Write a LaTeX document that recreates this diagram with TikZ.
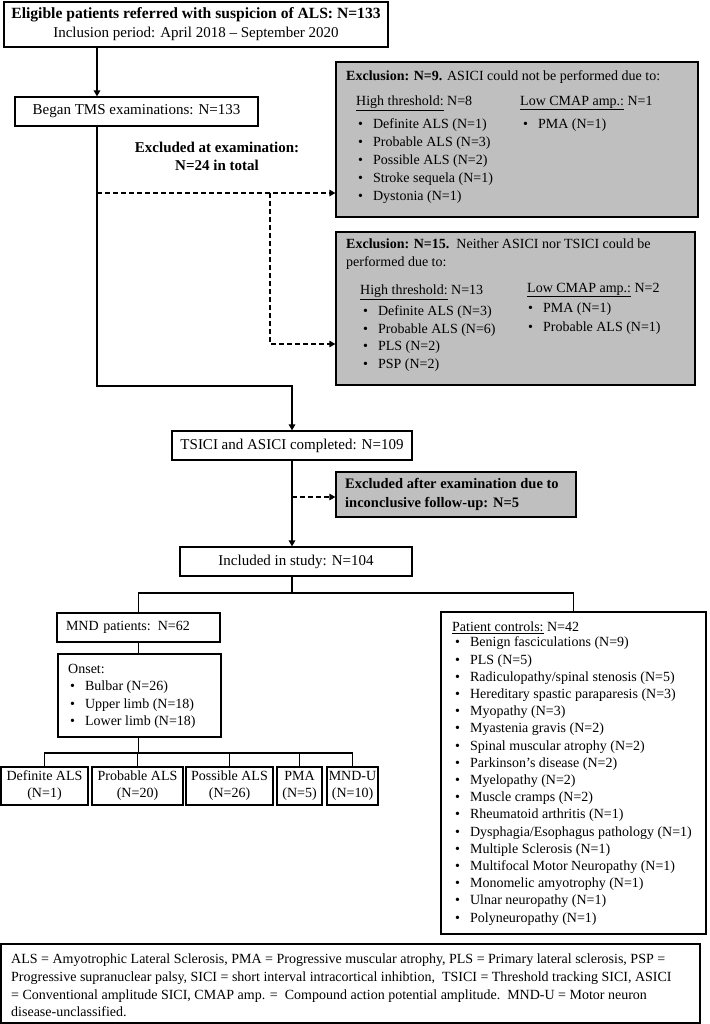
\documentclass[tikz,border=0pt]{standalone}
\usepackage{fontspec}
\setmainfont{Liberation Serif}
\usetikzlibrary{arrows.meta,positioning,fit}
\definecolor{boxgray}{RGB}{191,191,191}
\newcommand{\blist}[2][1]{{\renewcommand{\arraystretch}{#1}\begin{tabular}{@{}l@{\hspace{10pt}}l@{}}#2\end{tabular}}}

\begin{document}
\begin{tikzpicture}[x=1pt,y=-1pt,
	font=\fontsize{14}{17.2}\selectfont,
	frame/.style={draw, line width=1.2pt, inner sep=0pt},
	grayframe/.style={frame, fill=boxgray},
	stage/.style={frame, minimum height=29pt, font=\fontsize{15}{18}\selectfont},
	leaf/.style={frame, minimum height=38pt, align=center, font=\fontsize{14}{17}\selectfont},
	txt/.style={anchor=west, inner sep=0pt},
	lne/.style={line width=1.4pt},
	flow/.style={lne, -{Triangle[width=6.5pt,length=6pt]}},
	dsh/.style={line width=1.2pt, dash pattern=on 5pt off 3pt, -{Triangle[width=6.5pt,length=6pt]}}]
			{\useasboundingbox (0,0) rectangle (709,1024);}
			%{\draw[help lines] (0,0) grid[step=50] (709,1024);}
			{\node[frame, minimum width=384pt, minimum height=45pt, align=center, font=\fontsize{15}{18}\selectfont] (top) at (196,24.5) {{\fontsize{15.6}{18}\selectfont\textbf{Eligible patients referred with suspicion of ALS: N=133}}\\[1pt]Inclusion period: April 2018 -- September 2020};}
			{\node[stage, minimum width=243pt] (tms) at (136.5,111.5) {Began TMS examinations: N=133};}
			{\node[font=\fontsize{15}{18}\selectfont\bfseries, align=center, inner sep=0pt] (exlbl) at (217,156) {Excluded at examination:\\N=24 in total};}
			{\node[grayframe, fit={(336,62) (698,217)}] (exclA) {};}
			{\node[txt] (exclAhead) at (346,77) {\textbf{Exclusion: N=9.} ASICI could not be performed due to:};}
			{\node[txt] (exclAhi) at (356,103) {\underline{High threshold:} N=8};}
			{\node[txt] (exclAlist) at (358,161) {\blist[1.05]{•&Definite ALS (N=1)\\•&Probable ALS (N=3)\\•&Possible ALS (N=2)\\•&Stroke sequela (N=1)\\•&Dystonia (N=1)}};}
			{\node[txt] (exclAlo) at (520,103) {\underline{Low CMAP amp.:} N=1};}
			{\node[txt] (exclAlolist) at (523,125) {\blist{•&PMA (N=1)}};}
			{\node[grayframe, fit={(336,232) (695,385)}] (exclB) {};}
			{\node[txt, align=left, font=\fontsize{14}{18}\selectfont] (exclBhead) at (346,254) {\textbf{Exclusion: N=15.}\ \ Neither ASICI nor TSICI could be\\performed due to:};}
			{\node[txt] (exclBhi) at (360,292) {\underline{High threshold:} N=13};}
			{\node[txt] (exclBlist) at (363,338.5) {\blist[1.03]{•&Definite ALS (N=3)\\•&Probable ALS (N=6)\\•&PLS (N=2)\\•&PSP (N=2)}};}
			{\node[txt] (exclBlo) at (527,290) {\underline{Low CMAP amp.:} N=2};}
			{\node[txt] (exclBlolist) at (528,318) {\blist[1.16]{•&PMA (N=1)\\•&Probable ALS (N=1)}};}
			{\node[stage, minimum width=240pt] (tsici) at (292,445.5) {TSICI and ASICI completed: N=109};}
			{\node[grayframe, fit={(336,472) (576,517)}] (late) {};}
			{\node[txt, align=left, font=\fontsize{14.5}{19}\selectfont\bfseries] (latetxt) at (345,494.5) {Excluded after examination due to\\inconclusive follow-up: N=5};}
			{\node[stage, minimum width=232pt] (incl) at (296,561.5) {Included in study: N=104};}
			{\node[frame, minimum width=163pt, minimum height=29pt, text width=145pt, align=left] (mnd) at (138.5,627.5) {MND patients: N=62};}
			{\node[frame, fit={(58,654) (221,737)}] (onset) {};}
			{\node[txt] (onsettxt) at (68,669) {Onset:};}
			{\node[txt] (onsetlist) at (70,704.5) {\blist[1.02]{•&Bulbar (N=26)\\•&Upper limb (N=18)\\•&Lower limb (N=18)}};}
			{\node[leaf, minimum width=87pt] (defALS) at (44.5,786) {Definite ALS\\(N=1)};}
			{\node[leaf, minimum width=91pt] (prALS) at (137.5,786) {Probable ALS\\(N=20)};}
			{\node[leaf, minimum width=87pt] (poALS) at (229.5,786) {Possible ALS\\(N=26)};}
			{\node[leaf, minimum width=45pt] (pma) at (299.5,786) {PMA\\(N=5)};}
			{\node[leaf, minimum width=51pt] (mndu) at (352.5,786) {MND-U\\(N=10)};}
			{\node[frame, fit={(441,612) (706,934)}] (ctrl) {};}
			{\node[txt] (ctrlhead) at (452,628) {\underline{Patient controls:} N=42};}
			{\node[txt] (ctrllist) at (455,781) {\blist{•&Benign fasciculations (N=9)\\•&PLS (N=5)\\•&Radiculopathy/spinal stenosis (N=5)\\•&Hereditary spastic paraparesis (N=3)\\•&Myopathy (N=3)\\•&Myastenia gravis (N=2)\\•&Spinal muscular atrophy (N=2)\\•&Parkinson’s disease (N=2)\\•&Myelopathy (N=2)\\•&Muscle cramps (N=2)\\•&Rheumatoid arthritis (N=1)\\•&Dysphagia/Esophagus pathology (N=1)\\•&Multiple Sclerosis (N=1)\\•&Multifocal Motor Neuropathy (N=1)\\•&Monomelic amyotrophy (N=1)\\•&Ulnar neuropathy (N=1)\\•&Polyneuropathy (N=1)}};}
			{\node[frame, fit={(1,944) (700,1023)}] (legend) {};}
			{\node[txt, align=left, font=\fontsize{14}{17.7}\selectfont] (legendtxt) at (11,985.5) {ALS = Amyotrophic Lateral Sclerosis, PMA = Progressive muscular atrophy, PLS = Primary lateral sclerosis, PSP =\\Progressive supranuclear palsy, SICI = short interval intracortical inhibtion,\ \ TSICI = Threshold tracking SICI, ASICI\\= Conventional amplitude SICI, CMAP amp. =\ \ Compound action potential amplitude.\ \ MND-U = Motor neuron\\disease-unclassified.};}
			{\coordinate (trunk) at (97,386);}
			{\draw[flow] (trunk |- top.south) -- (trunk |- tms.north);}
			{\draw[flow] (trunk |- tms.south) -- (trunk) -| (tsici.north);}
			{\coordinate (exA) at (97,193);}
			{\draw[dsh] (exA) -- (exA -| exclA.west);}
			{\coordinate (exB) at (270,193);}
			{\coordinate (exBend) at (270,344);}
			{\draw[dsh] (exB) -- (exBend) -- (exBend -| exclB.west);}
			{\draw[flow] (tsici.south) -- (tsici.south |- incl.north);}
			{\coordinate (late0) at (292,497);}
			{\draw[dsh] (late0) -- (late0 -| late.west);}
			{\coordinate (split) at (292,593);}
			{\draw[lne] (split |- incl.south) -- (split);}
			{\draw[lne] (mnd.north) |- (split) -| (ctrl.north);}
			{\draw[lne] (mnd.south) -- (mnd.south |- onset.north);}
			{\coordinate (leafsplit) at (138.5,753);}
			{\draw[lne] (mnd.south |- onset.south) -- (leafsplit);}
			{\draw[lne] (defALS.north) |- (leafsplit) -| (mndu.north);}
			{\draw[lne] (prALS.north) -- (prALS.north |- leafsplit);}
			{\draw[lne] (poALS.north) -- (poALS.north |- leafsplit);}
			{\draw[lne] (pma.north) -- (pma.north |- leafsplit);}
		\end{tikzpicture}
\end{document}
